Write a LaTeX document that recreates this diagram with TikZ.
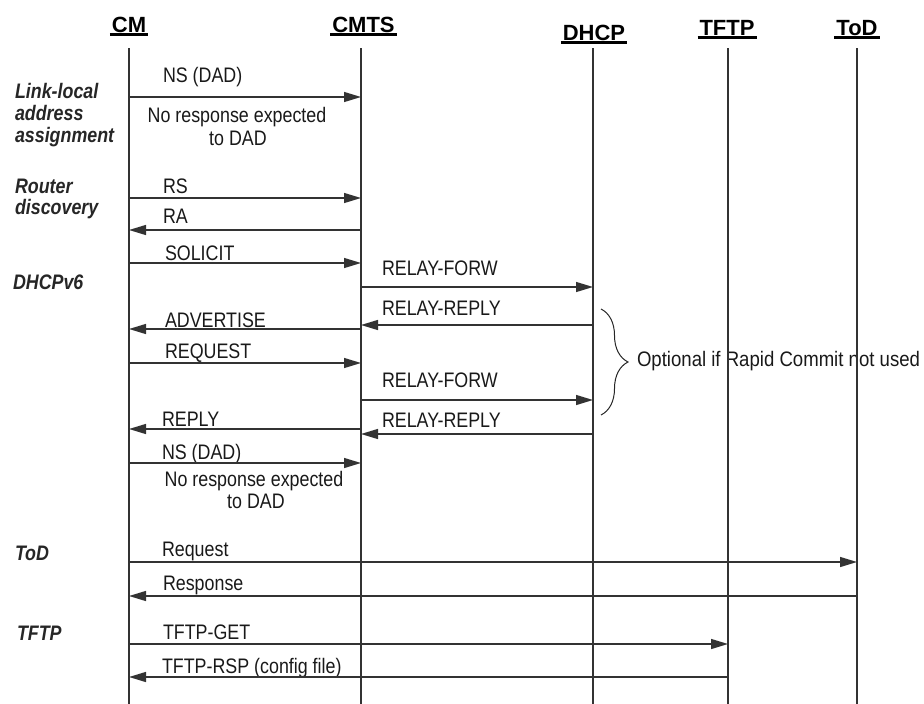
\documentclass[tikz,border=0pt]{standalone}
\usepackage{fontspec}
\setmainfont{Liberation Sans}[FakeStretch=0.85]
\newfontfamily\hdrfont{Liberation Sans}
\newfontfamily\opfont{Liberation Sans}[FakeStretch=0.885]
\usetikzlibrary{arrows.meta,decorations.pathreplacing}
\begin{document}
\begin{tikzpicture}[x=1pt,y=-1pt,
  every node/.style={inner sep=0pt, outer sep=0pt},
  hdr/.style={font=\hdrfont\fontsize{22}{24}\selectfont\bfseries, anchor=base},
  msgtxt/.style={font=\fontsize{21}{22}\selectfont, anchor=base west, text=black!90},
  ctrtxt/.style={font=\fontsize{21}{22}\selectfont, anchor=base, text=black!90},
  grp/.style={font=\fontsize{21}{22}\selectfont\bfseries\itshape, anchor=base west, text=black!85},
  life/.style={line width=1.3pt, draw=black!80},
  msg/.style={line width=1.3pt, draw=black!80, -{Triangle[length=17pt,width=10pt]}},
  uline/.style={line width=2.2pt}
]
\useasboundingbox (0,0) rectangle (924,704);
\clip (0,0) rectangle (924,704);

% headers
\node[hdr] (hCM) at (129,32) {CM};
\node[hdr] (hCMTS) at (363.5,32) {CMTS};
\node[hdr] (hDHCP) at (594,40) {DHCP};
\node[hdr] (hTFTP) at (727,35) {TFTP};
\node[hdr] (hToD) at (857,35) {ToD};
\foreach \h in {hCM,hCMTS,hDHCP,hTFTP,hToD}
  \draw[uline] ([shift={(-2,2.5)}]\h.base west) -- ([shift={(2,2.5)}]\h.base east);

% lifelines
\coordinate (cm) at (129,48);   \coordinate (cmB) at (129,706);
\coordinate (cmts) at (361,48); \coordinate (cmtsB) at (361,706);
\coordinate (dhcp) at (593,48); \coordinate (dhcpB) at (593,706);
\coordinate (tftp) at (728,48); \coordinate (tftpB) at (728,706);
\coordinate (tod) at (857,48);  \coordinate (todB) at (857,706);

% brace text (lifelines cross it)
\node[anchor=base west, font=\opfont\fontsize{21}{22}\selectfont, text=black!90] (opt) at (637,366) {Optional if Rapid Commit not used};

\foreach \a/\b in {cm/cmB,cmts/cmtsB,dhcp/dhcpB,tftp/tftpB,tod/todB}
  \draw[life] (\a) -- (\b);

% group labels
\node[grp] (g1a) at (15,98) {Link-local};
\node[grp] (g1b) at (15,120) {address};
\node[grp] (g1c) at (15,142) {assignment};
\node[grp] (g2a) at (15,193) {Router};
\node[grp] (g2b) at (15,214) {discovery};
\node[grp] (g3) at (13,289) {DHCPv6};
\node[grp] (g4) at (15,560) {ToD};
\node[grp] (g5) at (17,640) {TFTP};

% messages
\node[msgtxt] (t1) at (163,82) {NS (DAD)};
\draw[msg] (cm |- 0,97) -- (cmts |- 0,97);
\node[ctrtxt] (n1a) at (237,122) {No response expected};
\node[ctrtxt] (n1b) at (238,145) {to DAD};

\node[msgtxt] (t2) at (163,193) {RS};
\draw[msg] (cm |- 0,198) -- (cmts |- 0,198);
\node[msgtxt] (t3) at (163,223) {RA};
\draw[msg] (cmts |- 0,230) -- (cm |- 0,230);

\node[msgtxt] (t4) at (165,260) {SOLICIT};
\draw[msg] (cm |- 0,263) -- (cmts |- 0,263);
\node[msgtxt] (t5) at (382,275) {RELAY-FORW};
\draw[msg] (cmts |- 0,287) -- (dhcp |- 0,287);
\node[msgtxt] (t6) at (382,315) {RELAY-REPLY};
\draw[msg] (dhcp |- 0,325) -- (cmts |- 0,325);
\node[msgtxt] (t7) at (165,327) {ADVERTISE};
\draw[msg] (cmts |- 0,329) -- (cm |- 0,329);
\node[msgtxt] (t8) at (165,358) {REQUEST};
\draw[msg] (cm |- 0,363) -- (cmts |- 0,363);
\node[msgtxt] (t9) at (382,387) {RELAY-FORW};
\draw[msg] (cmts |- 0,400) -- (dhcp |- 0,400);
\node[msgtxt] (t10) at (382,427) {RELAY-REPLY};
\draw[msg] (dhcp |- 0,434) -- (cmts |- 0,434);
\node[msgtxt] (t11) at (162,426) {REPLY};
\draw[msg] (cmts |- 0,429) -- (cm |- 0,429);
\node[msgtxt] (t12) at (162,459) {NS (DAD)};
\draw[msg] (cm |- 0,463) -- (cmts |- 0,463);
\node[ctrtxt] (n2a) at (254,486) {No response expected};
\node[ctrtxt] (n2b) at (256,508) {to DAD};

\node[msgtxt] (t13) at (162,556) {Request};
\draw[msg] (cm |- 0,562) -- (tod |- 0,562);
\node[msgtxt] (t14) at (163,590) {Response};
\draw[msg] (tod |- 0,596) -- (cm |- 0,596);
\node[msgtxt] (t15) at (163,639) {TFTP-GET};
\draw[msg] (cm |- 0,644) -- (tftp |- 0,644);
\node[msgtxt] (t16) at (162,673) {TFTP-RSP (config file)};
\draw[msg] (tftp |- 0,677) -- (cm |- 0,677);

% brace
\coordinate (bt) at (601,309);
\coordinate (bb) at (601,415);
\draw[decorate, decoration={brace, amplitude=27pt}, line width=1pt, black!85] (bt) -- (bb);
\end{tikzpicture}
\end{document}
